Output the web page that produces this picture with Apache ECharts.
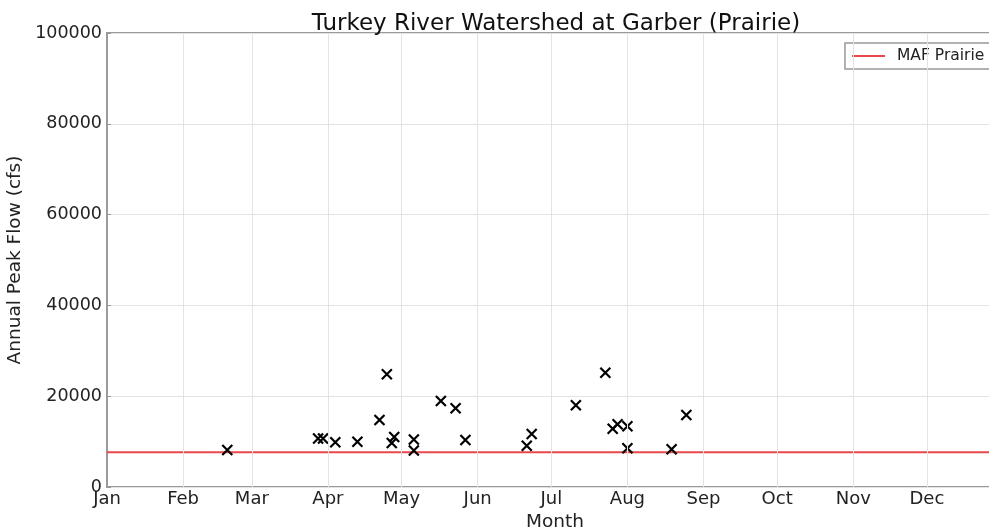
<!DOCTYPE html>
<html>
<head>
<meta charset="utf-8">
<script src="https://cdn.jsdelivr.net/npm/echarts@6/dist/echarts.min.js"></script>
<style>
  html, body { margin: 0; padding: 0; background: #fff; }
  #main { width: 989px; height: 529px; }
</style>
</head>
<body>
<div id="main"></div>
<script>
// day of year (0 = Jan 1) where each month starts
const monthStarts = [0, 31, 59, 90, 120, 151, 181, 212, 243, 273, 304, 334];
const monthNames = ['Jan', 'Feb', 'Mar', 'Apr', 'May', 'Jun', 'Jul', 'Aug', 'Sep', 'Oct', 'Nov', 'Dec'];

// annual peaks: day of year and flow (cfs)
const peakDay = [49, 86, 88, 93, 102, 111, 114, 116, 117, 125, 125, 136, 142, 146,
  171, 173, 191, 203, 206, 208, 212, 212, 230, 236];
const peakFlow = [8150, 10680, 10680, 9850, 9980, 14760, 24820, 9690, 11010, 10460, 8040, 18940, 17330, 10350,
  9100, 11670, 18000, 25180, 12840, 13810, 13390, 8520, 8300, 15860];

const mafPrairie = 7640;
const yTicks = [0, 20000, 40000, 60000, 80000, 100000];

var myChart = echarts.init(document.querySelector('#main'));

const font = 'DejaVu Sans';
const cross = 'path://M0,0 L10,10 M10,0 L0,10';

var option = {
  animation: false,
  textStyle: { fontFamily: font },
  title: {
    text: 'Turkey River Watershed at Garber (Prairie)',
    left: 551,
    textAlign: 'center',
    top: 8,
    textStyle: { fontFamily: font, fontSize: 23, fontWeight: 'normal', color: '#111' }
  },
  legend: {
    data: ['MAF Prairie'],
    left: 845,
    top: 43,
    orient: 'vertical',
    backgroundColor: '#fff',
    borderColor: '#999',
    borderWidth: 1.5,
    borderRadius: 0,
    padding: [5, 40, 5, 7],
    itemWidth: 33,
    itemHeight: 2,
    icon: 'rect',
    textStyle: { fontFamily: font, fontSize: 15.5, color: '#222', padding: [0, 0, 0, 7] }
  },
  grid: {
    left: 107,
    top: 33,
    width: 896,
    height: 454,
    outerBoundsMode: 'none',
    containLabel: false,
    show: true,
    borderColor: '#9a9a9a',
    borderWidth: 2
  },
  xAxis: {
    type: 'value',
    min: 0,
    max: 365,
    name: 'Month',
    nameLocation: 'middle',
    nameGap: 21,
    nameTextStyle: { fontFamily: font, fontSize: 18.5, color: '#222' },
    axisLine: { show: false },
    splitLine: { show: false },
    axisTick: { show: true, inside: true, length: 4, customValues: monthStarts, lineStyle: { color: '#999' } },
    axisLabel: {
      customValues: monthStarts,
      margin: 3,
      fontFamily: font,
      fontSize: 18,
      color: '#222',
      formatter: function (v) { return monthNames[monthStarts.indexOf(v)]; }
    }
  },
  yAxis: {
    type: 'value',
    min: yTicks[0],
    max: yTicks[yTicks.length - 1],
    interval: 20000,
    name: 'Annual Peak Flow (cfs)',
    nameLocation: 'middle',
    nameGap: 73,
    nameTextStyle: { fontFamily: font, fontSize: 18.5, color: '#222' },
    axisLine: { show: false },
    axisTick: { show: true, inside: true, length: 4, lineStyle: { color: '#999' } },
    splitLine: { show: true, lineStyle: { color: '#e3e3e3', width: 1 } },
    axisLabel: {
      margin: 5, fontFamily: font, fontSize: 17.5, color: '#222',
      formatter: function (v) { return String(v); }
    }
  },
  series: [
    {
      name: 'grid',
      type: 'line',
      data: [],
      silent: true,
      markLine: {
        silent: true,
        symbol: 'none',
        label: { show: false },
        lineStyle: { color: '#e3e3e3', width: 1, type: 'solid' },
        data: monthStarts.slice(1).map(d => ({ xAxis: d }))
      }
    },
    {
      name: 'MAF Prairie',
      type: 'line',
      data: [[0, mafPrairie], [365, mafPrairie]],
      showSymbol: false,
      symbol: 'none',
      color: '#e8474b',
      lineStyle: { color: '#e8474b', width: 2 },
      z: 3
    },
    {
      name: 'Peaks',
      type: 'scatter',
      data: peakDay.map((d, i) => [d, peakFlow[i]]),
      symbol: cross,
      symbolSize: 10,
      itemStyle: { color: 'rgba(0,0,0,0)', borderColor: '#000', borderWidth: 2.2, opacity: 1 },
      z: 4
    }
  ]
};
myChart.setOption(option);
</script>
</body>
</html>
